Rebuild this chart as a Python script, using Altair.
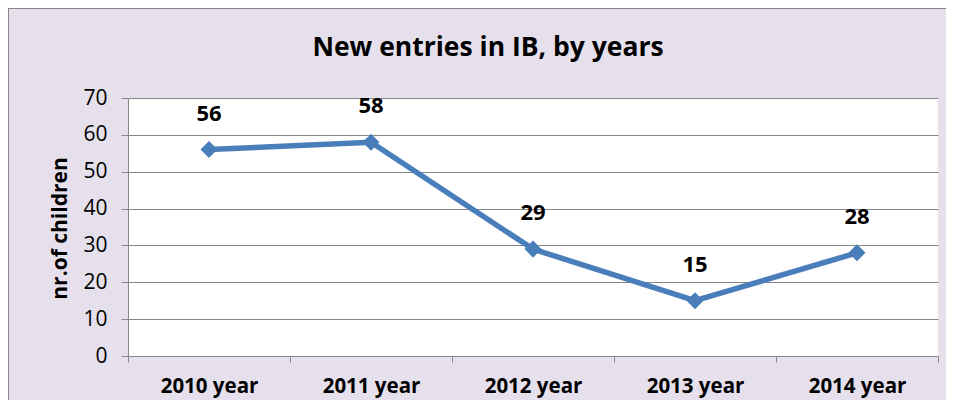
import altair as alt
import pandas as pd

years = ["2010 year", "2011 year", "2012 year", "2013 year", "2014 year"]
entries = [56, 58, 29, 15, 28]
y_ticks = [0, 10, 20, 30, 40, 50, 60, 70]

df = pd.DataFrame({"year": years, "entries": entries})

FONT = "Open Sans"
BLUE = "#4A7EBB"
GREY = "#878787"
BG = "#E6E0EC"

x = alt.X("year:N", sort=years, title=None,
          scale=alt.Scale(paddingInner=0, paddingOuter=0),
          axis=alt.Axis(labelAngle=0, labelFont=FONT, labelFontSize=20.5,
                        labelFontWeight="bold", labelColor="black",
                        labelPadding=14, tickBand="extent", tickSize=6,
                        tickColor=GREY, domainColor=GREY, grid=False))
y = alt.Y("entries:Q", title="nr.of children",
          scale=alt.Scale(domain=[0, 70], nice=False),
          axis=alt.Axis(values=y_ticks, labelFont=FONT, labelFontSize=21,
                        labelColor="black", labelPadding=14, tickSize=7,
                        tickColor=GREY, domainColor=GREY, gridColor=GREY,
                        gridWidth=1, titleFont=FONT, titleFontSize=21,
                        titleFontWeight="bold", titleColor="black",
                        titleAngle=270, titleX=-68, titleY=130,
                        titleAlign="center", titleBaseline="middle"))

base = alt.Chart(df)

frame = base.mark_rect(fill=None, stroke=GREY, strokeWidth=1).encode(
    x=alt.value(-119.5), x2=alt.value(900), y=alt.value(-89.5), y2=alt.value(400)
)

line = base.mark_line(color=BLUE, strokeWidth=5.5).encode(x=x, y=y)
pts = base.mark_point(shape="diamond", filled=True, color=BLUE, size=290,
                      opacity=1).encode(x=x, y=y)
labels = base.mark_text(font=FONT, fontSize=22, fontWeight="bold", color="black",
                        baseline="middle", dy=-36).encode(
    x=x, y=y, text="entries:Q")

chart = alt.layer(frame, line, pts, labels).properties(
    width=810, height=258,
    title=alt.TitleParams("New entries in IB, by years", font=FONT, fontSize=26.5,
                          fontWeight="bold", color="black", anchor="middle",
                          frame="group", dx=-45, offset=-53),
    background=BG,
    padding={"left": 120, "top": 90, "right": 8, "bottom": 44},
    autosize=alt.AutoSizeParams(type="none"),
).configure_view(fill="white", stroke=None)

chart.save("out.html", embed_options={"renderer": "svg", "actions": False})
